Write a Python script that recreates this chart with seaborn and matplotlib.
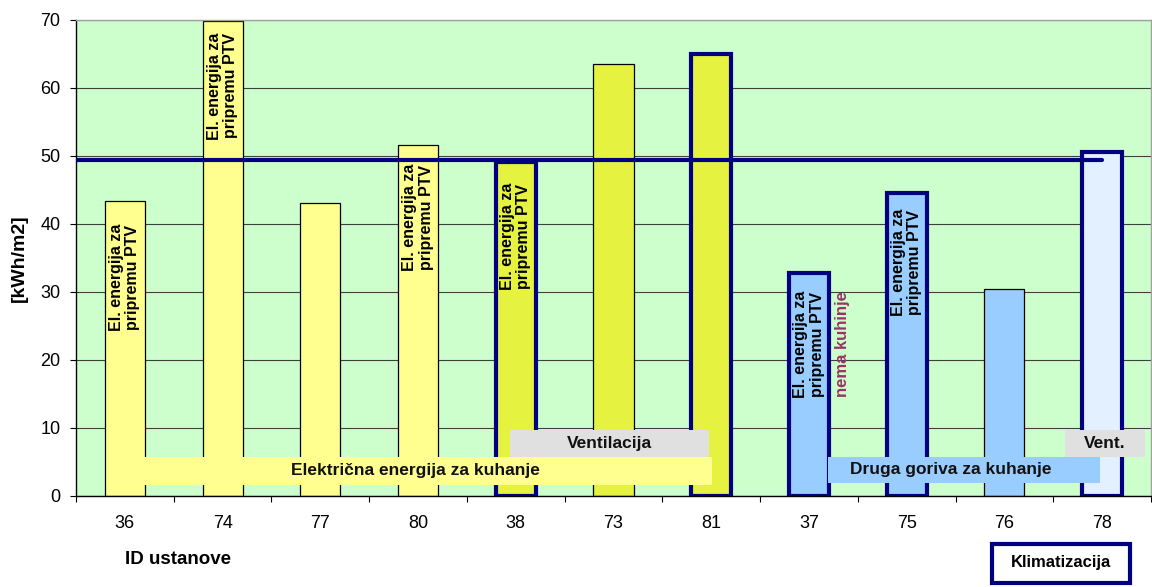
import numpy as np
import pandas as pd
import matplotlib
matplotlib.use("Agg")
import matplotlib.pyplot as plt
from matplotlib.patches import Rectangle
import seaborn as sns

# Specific energy use per institution
ids = ["36", "74", "77", "80", "38", "73", "81", "37", "75", "76", "78"]
values = [43.4, 69.8, 43.1, 51.6, 49.1, 63.5, 65.0, 32.8, 44.6, 30.4, 50.6]
fills = ["#FFFF8F", "#FFFF8F", "#FFFF8F", "#FFFF8F",
         "#E5F240", "#E5F240", "#E5F240",
         "#99CCFF", "#99CCFF", "#99CCFF", "#E3F0FF"]
# institutions with air conditioning (thick outline)
klima = ["38", "81", "37", "75", "78"]
# institutions that also heat domestic hot water electrically
ptv_ids = ["36", "74", "80", "38", "37", "75"]
ptv_y = [32.2, 60.3, 41.0, 38.2, 22.3, 34.3]
ptv_text = "El. energija za\npripremu PTV"

NAVY = "#000080"

sns.set_style("white")
plt.rcParams["font.family"] = ["Liberation Sans", "DejaVu Sans"]
plt.rcParams.update({"text.color": "black", "axes.labelcolor": "black",
                     "xtick.color": "black", "ytick.color": "black"})

df = pd.DataFrame({"ustanova": ids, "kwh": values})

fig = plt.figure(figsize=(11.52, 5.87), dpi=100)
ax = fig.add_axes([76 / 1152, 1 - 496 / 587, 1075 / 1152, 476 / 587])
ax.set_facecolor("#CCFFCC")

sns.barplot(data=df, x="ustanova", y="kwh", hue="ustanova", order=ids,
            hue_order=ids, palette=dict(zip(ids, fills)), width=0.41,
            dodge=False, legend=False, saturation=1, ax=ax)

for cont, uid in zip(ax.containers, ids):
    for bar in cont:
        if uid in klima:
            bar.set_edgecolor(NAVY)
            bar.set_linewidth(3)
        else:
            bar.set_edgecolor("black")
            bar.set_linewidth(0.9)
        bar.set_zorder(2)

# average over all institutions
mean_val = float(np.mean(values))
ax.plot([-0.5, len(ids) - 1], [mean_val, mean_val], color=NAVY, lw=3,
        solid_capstyle="round", zorder=5)

# vertical notes inside bars
for uid, yy in zip(ptv_ids, ptv_y):
    ax.text(ids.index(uid), yy, ptv_text, rotation=90, ha="center",
            va="center", fontsize=11.5, fontweight="bold",
            multialignment="center", linespacing=1.1, zorder=7)
ax.text(7.34, 22.4, "nema kuhinje", rotation=90, ha="center", va="center",
        fontsize=12, fontweight="bold", color="#993366", zorder=7)

# category bands across the bottom of the plot
bands = [
    (-0.07, 1.62, 6.08, 4.12, "#FFFF8F", "Električna energija za kuhanje", 2.97),
    (3.94, 5.74, 2.04, 3.97, "#E0E0E0", "Ventilacija", 4.96),
    (7.19, 1.91, 2.79, 3.83, "#99CCFF", "Druga goriva za kuhanje", 8.45),
    (9.62, 5.74, 0.82, 3.97, "#E0E0E0", "Vent.", 10.03),
]
for x0, y0, w, h, col, txt, tx in bands:
    ax.add_patch(Rectangle((x0, y0), w, h, facecolor=col, edgecolor="none",
                           zorder=4))
    ax.text(tx, y0 + h / 2, txt, ha="center", va="center", fontsize=12.5,
            fontweight="bold", color="#111111", zorder=7)

ax.set_xlim(-0.5, len(ids) - 0.5)
ax.set_ylim(0, 70)
ax.set_yticks(np.arange(0, 71, 10))
ax.yaxis.grid(True, color="#404040", lw=0.8)
ax.xaxis.grid(False)
ax.set_axisbelow(True)

ax.tick_params(axis="y", which="major", direction="out", length=4.3, width=0.8,
               pad=7, labelsize=13, left=True, color="black",
               labelcolor="black")
ax.tick_params(axis="x", which="major", length=0, pad=14, labelsize=13,
               labelcolor="black")
ax.set_xticks(np.arange(-0.5, len(ids), 1.0), minor=True)
ax.tick_params(axis="x", which="minor", direction="out", length=4.3,
               width=0.8, bottom=True, color="black")

for side in ["left", "bottom"]:
    ax.spines[side].set_color("black")
    ax.spines[side].set_linewidth(1.0)
for side in ["top", "right"]:
    ax.spines[side].set_visible(True)
    ax.spines[side].set_color("#A0A0A0")
    ax.spines[side].set_linewidth(1.0)

ax.set_ylabel("[kWh/m2]", fontsize=14, fontweight="bold", color="black")
ax.yaxis.set_label_coords(-0.045, 0.5)
ax.set_xlabel("ID ustanove", fontsize=13.5, fontweight="bold", color="black")
ax.xaxis.set_label_coords(0.095, -0.115)

# boxed note below the axis
fig.add_artist(Rectangle((992 / 1152, 1 - 583 / 587), 138 / 1152, 39 / 587,
                         transform=fig.transFigure, facecolor="white",
                         edgecolor=NAVY, lw=3))
fig.text(1061 / 1152, 1 - 563 / 587, "Klimatizacija", ha="center",
         va="center", fontsize=12, fontweight="bold", color="black")

fig.savefig("out.png", dpi=100, facecolor="white")
